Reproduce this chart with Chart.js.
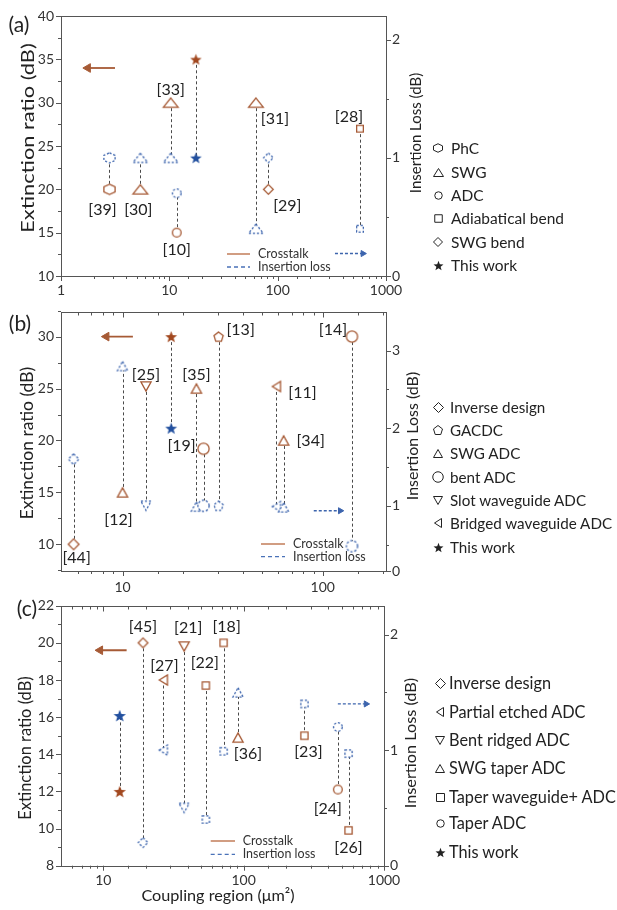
<!DOCTYPE html>
<html>
<head>
<meta charset="utf-8">
<script src="https://cdn.jsdelivr.net/npm/chart.js@4.4.1/dist/chart.umd.min.js"></script>
<style>
  body { margin: 0; background: #fff; }
  #page { position: relative; width: 617px; height: 910px; overflow: hidden; font-family: Lato, sans-serif; color: #222; }
  .chart { position: absolute; left: 0; }
</style>
</head>
<body>
<div id="page">
  <canvas id="ca" class="chart" width="617" height="300" style="top:0px"></canvas>
  <canvas id="cb" class="chart" width="617" height="300" style="top:300px"></canvas>
  <canvas id="cc" class="chart" width="617" height="320" style="top:590px"></canvas>
</div>
<script>
// ---- panel (a) ----
const aRefs = ['[39]', '[30]', '[33]', '[10]', '', '[31]', '[29]', '[28]'];
const aArea = [2.8, 5.4, 10.3, 11.7, 17.6, 63, 82, 575];
const aER = [20, 20, 30, 15, 35, 30, 20, 27];
const aIL = [1.0, 1.0, 1.0, 0.7, 1.0, 0.4, 1.0, 0.4];
const aKind = [0, 1, 1, 2, 5, 1, 4, 3];
const aTypes = ['PhC', 'SWG', 'ADC', 'Adiabatical bend', 'SWG bend', 'This work'];
const aERTicks = [10, 12.5, 15, 17.5, 20, 22.5, 25, 27.5, 30, 32.5, 35, 37.5, 40];
const aERLabels = ['10', '', '15', '', '20', '', '25', '', '30', '', '35', '', '40'];
const aILTicks = [0, 0.5, 1, 1.5, 2];
const aILLabels = ['0', '', '1', '', '2'];

// ---- panel (b) ----
const bRefs = ['[44]', '[12]', '[25]', '', '[35]', '[19]', '[13]', '[11]', '[34]', '[14]'];
const bArea = [5.7, 10.0, 13.1, 17.5, 23.4, 25.4, 30.2, 58.7, 63.8, 140];
const bER = [10, 15, 25.2, 30, 25, 19.2, 30, 25.2, 20, 30];
const bIL = [1.6, 2.8, 1.0, 2.0, 0.99, 1.0, 1.0, 0.99, 0.98, 0.48];
const bKind = [0, 2, 4, 6, 2, 3, 1, 5, 2, 3];
const bTypes = ['Inverse design', 'GACDC', 'SWG ADC', 'bent ADC', 'Slot waveguide ADC', 'Bridged waveguide ADC', 'This work'];
const bERTicks = [7.5, 10, 12.5, 15, 17.5, 20, 22.5, 25, 27.5, 30, 32.5];
const bERLabels = ['', '10', '', '15', '', '20', '', '25', '', '30', ''];
// the published axis puts its "0" label at the frame bottom, off the 1-2-3 spacing
const bILTicks = [0.16, 0.5, 1, 1.5, 2, 2.5, 3];
const bILLabels = ['0', '', '1', '', '2', '', '3'];

// ---- panel (c) ----
const cRefs = ['', '[45]', '[27]', '[21]', '[22]', '[18]', '[36]', '[23]', '[24]', '[26]'];
const cArea = [13.1, 19.2, 26.8, 37.7, 53.8, 72, 91.2, 271, 469, 559];
const cER = [12, 20, 18, 19.8, 17.7, 20, 14.9, 15, 12.1, 9.9];
const cIL = [1.3, 0.2, 1.0, 0.5, 0.4, 0.99, 1.5, 1.4, 1.2, 0.97];
const cKind = [6, 0, 1, 2, 4, 4, 3, 4, 5, 4];
const cTypes = ['Inverse design', 'Partial etched ADC', 'Bent ridged ADC', 'SWG taper ADC', 'Taper waveguide+ ADC', 'Taper ADC', 'This work'];
const cERTicks = [8, 9, 10, 11, 12, 13, 14, 15, 16, 17, 18, 19, 20, 21, 22];
const cERLabels = ['8', '', '10', '', '12', '', '14', '', '16', '', '18', '', '20', '', '22'];
const cILTicks = [0, 0.5, 1, 1.5, 2];
const cILLabels = ['0', '', '1', '', '2'];

const brown = '#a65a35';
const blue = '#3c64ad';
const starBrown = '#a2481f';
const starBlue = '#22509f';
const axisColor = '#555';
const page = document.getElementById('page');

const makeMarker = (shape, color, dashed, sz, lw = 1.3) => {
    const c = document.createElement('canvas');
    c.width = Math.ceil(sz[0] + 4);
    c.height = Math.ceil(sz[1] + 4);
    const g = c.getContext('2d');
    g.translate(c.width / 2, c.height / 2);
    const hw = sz[0] / 2 - lw / 2;
    const hh = sz[1] / 2 - lw / 2;
    const poly = pts => {
        pts.forEach(([px, py], i) => (i ? g.lineTo(px, py) : g.moveTo(px, py)));
        g.closePath();
    };
    const deg = d => d * Math.PI / 180;
    g.beginPath();
    if (shape === 'circle') g.ellipse(0, 0, hw, hh, 0, 0, Math.PI * 2);
    else if (shape === 'square') g.rect(-hw, -hh, 2 * hw, 2 * hh);
    else if (shape === 'diamond') poly([[0, -hh], [hw, 0], [0, hh], [-hw, 0]]);
    else if (shape === 'triangle') poly([[0, -hh], [hw, hh], [-hw, hh]]);
    else if (shape === 'triangleDown') poly([[-hw, -hh], [hw, -hh], [0, hh]]);
    else if (shape === 'triangleLeft') poly([[-hw, 0], [hw, -hh], [hw, hh]]);
    else if (shape === 'hexagon') poly([0, 1, 2, 3, 4, 5].map(k => [hw * Math.cos(deg(-90 + 60 * k)) / 0.866, hh * Math.sin(deg(-90 + 60 * k))]));
    else if (shape === 'pentagon') poly([0, 1, 2, 3, 4].map(k => [hw * Math.cos(deg(-90 + 72 * k)) / 0.951, hh * (Math.sin(deg(-90 + 72 * k)) + 0.0955) / 0.9045]));
    else if (shape === 'star') {
        const r = sz[1] / 2;
        poly([...Array(10).keys()].map(k => {
            const rr = k % 2 ? r * 0.42 : r;
            return [rr * Math.cos(deg(-90 + 36 * k)), rr * Math.sin(deg(-90 + 36 * k)) + r * 0.1];
        }));
        g.fillStyle = color;
        g.fill();
        return c;
    }
    g.fillStyle = '#fff';
    g.fill();
    g.lineWidth = lw;
    g.strokeStyle = color;
    if (dashed) g.setLineDash([2.2, 1.8]);
    g.stroke();
    return c;
};

const isPow10 = v => {
    const l = Math.log10(v);
    return Math.abs(l - Math.round(l)) < 1e-6;
};

const drawTicks = (ctx, s, side, isMajor, inward) => {
    s.ticks.forEach(t => {
        const major = isMajor(t.value);
        const px = s.getPixelForValue(t.value);
        const atEnd = Math.abs(t.value - s.min) < 1e-9 || Math.abs(t.value - s.max) < 1e-9;
        if (atEnd && !major) return;
        const len = major ? 5 : 3;
        const p = Math.round(px) + 0.5;
        ctx.beginPath();
        if (side === 'bottom') { ctx.moveTo(p, s.top); ctx.lineTo(p, s.top + len); }
        else if (side === 'top') { ctx.moveTo(p, inward); ctx.lineTo(p, inward + len); }
        else if (side === 'left') { ctx.moveTo(s.right, p); ctx.lineTo(s.right - len, p); }
        else { ctx.moveTo(s.left, p); ctx.lineTo(s.left + len, p); }
        ctx.stroke();
    });
};

const decor = p => ({
    id: 'decor',
    beforeDatasetsDraw(chart) {
        const { ctx, scales } = chart;
        ctx.save();
        ctx.strokeStyle = '#4a4a4a';
        ctx.lineWidth = 1;
        ctx.setLineDash([3, 2.5]);
        p.area.forEach((v, i) => {
            const px = Math.round(scales.x.getPixelForValue(v)) + 0.5;
            ctx.beginPath();
            ctx.moveTo(px, scales.yL.getPixelForValue(p.er[i]));
            ctx.lineTo(px, scales.yR.getPixelForValue(p.il[i]));
            ctx.stroke();
        });
        ctx.restore();
    },
    afterDraw(chart) {
        const { ctx, chartArea: a, scales } = chart;
        ctx.save();
        ctx.strokeStyle = axisColor;
        ctx.lineWidth = 1;
        const l = Math.round(a.left) + 0.5, t = Math.round(a.top) + 0.5;
        const r = Math.round(a.right) + 0.5, b = Math.round(a.bottom) + 0.5;
        ctx.strokeRect(l, t, r - l, b - t);
        drawTicks(ctx, scales.x, 'bottom', isPow10);
        if (p.topTicks) drawTicks(ctx, scales.x, 'top', isPow10, t);
        drawTicks(ctx, scales.yL, 'left', v => p.erLabels[p.erTicks.indexOf(v)] !== '');
        drawTicks(ctx, scales.yR, 'right', v => p.ilLabels[p.ilTicks.indexOf(v)] !== '');

        ctx.fillStyle = '#222';
        ctx.font = '16px Lato';
        ctx.textAlign = 'center';
        ctx.textBaseline = 'middle';
        p.refs.forEach((txt, i) => {
            if (!txt) return;
            ctx.fillText(txt, scales.x.getPixelForValue(p.area[i]) + p.dx[i], scales.yL.getPixelForValue(p.er[i]) + p.dy[i]);
        });

        const L = p.legend;
        ctx.lineWidth = 1.3;
        ctx.strokeStyle = '#b9683f';
        ctx.beginPath(); ctx.moveTo(L.x0, L.y1); ctx.lineTo(L.x1, L.y1); ctx.stroke();
        ctx.strokeStyle = '#4a72b8';
        ctx.setLineDash([4, 3]);
        ctx.beginPath(); ctx.moveTo(L.x0, L.y2); ctx.lineTo(L.x1, L.y2); ctx.stroke();
        ctx.setLineDash([]);
        ctx.fillStyle = '#333';
        ctx.font = '12.5px Lato';
        ctx.textAlign = 'left';
        ctx.fillText('Crosstalk', L.tx, L.y1);
        ctx.fillText('Insertion loss', L.tx, L.y2);
        ctx.restore();
    }
});

const makePanel = (id, p) => {
    const pick = (k, dashed) => {
        const shape = p.shapes[k];
        const isStar = shape === 'star';
        const color = isStar ? (dashed ? starBlue : starBrown) : (dashed ? blue : brown);
        return makeMarker(shape, color, dashed && !isStar, p.sizes[k]);
    };
    const tickFont = { family: 'Lato', size: 14 };
    const grid = { display: true, drawOnChartArea: false, drawTicks: true, tickLength: 5, color: 'rgba(0,0,0,0)' };
    const yAxis = (pos, min, max, list, labels, width) => ({
        type: 'linear',
        position: pos,
        min: min,
        max: max,
        afterBuildTicks: s => { s.ticks = list.map(v => ({ value: v })); },
        afterFit: s => { s.width = width; },
        grid: grid,
        border: { display: false },
        ticks: { autoSkip: false, padding: pos === 'left' ? 2 : 1, font: tickFont, color: '#333', callback: (v, i) => labels[i] },
    });
    return new Chart(document.getElementById(id), {
        type: 'scatter',
        data: {
            datasets: [
                { data: p.area.map((v, i) => ({ x: v, y: p.er[i] })), yAxisID: 'yL', pointStyle: p.kind.map(k => pick(k, false)), pointRadius: 5 },
                { data: p.area.map((v, i) => ({ x: v, y: p.il[i] })), yAxisID: 'yR', pointStyle: p.kind.map(k => pick(k, true)), pointRadius: 5 },
                {
                    type: 'line', data: p.arrowER.x.map(v => ({ x: v, y: p.arrowER.y })), yAxisID: 'yL',
                    borderColor: brown, borderWidth: 1.8, pointRadius: [0, 5], pointStyle: 'triangle', pointRotation: -90,
                    pointBackgroundColor: brown, pointBorderColor: brown, pointBorderWidth: 1,
                },
                {
                    type: 'line', data: p.arrowIL.x.map(v => ({ x: v, y: p.arrowIL.y })), yAxisID: 'yR',
                    borderColor: blue, borderWidth: 1.4, borderDash: [3, 2], pointRadius: [0, 3.5], pointStyle: 'triangle', pointRotation: 90,
                    pointBackgroundColor: blue, pointBorderColor: blue, pointBorderWidth: 1,
                },
            ],
        },
        options: {
            responsive: false,
            animation: false,
            devicePixelRatio: 1,
            events: [],
            layout: { padding: { top: p.top, right: p.padRight, left: 0, bottom: 0 } },
            plugins: { legend: { display: false }, tooltip: { enabled: false } },
            scales: {
                x: {
                    type: 'logarithmic',
                    position: 'bottom',
                    min: p.xMin,
                    max: p.xMax,
                    afterFit: s => { s.height = p.xH; },
                    grid: grid,
                    border: { display: false },
                    ticks: { autoSkip: false, maxRotation: 0, minRotation: 0, padding: p.xPad, font: tickFont, color: '#333', callback: v => (isPow10(v) ? String(Math.round(v)) : '') },
                },
                yL: yAxis('left', p.erMin, p.erMax, p.erTicks, p.erLabels, 61),
                yR: yAxis('right', p.ilMin, p.ilMax, p.ilTicks, p.ilLabels, 40),
            },
        },
        plugins: [decor(p)],
    });
};

makePanel('ca', {
    refs: aRefs, area: aArea, er: aER, il: aIL, kind: aKind,
    shapes: ['hexagon', 'triangle', 'circle', 'square', 'diamond', 'star'],
    sizes: [[12.5, 11.5], [16, 10.5], [10, 10], [8, 8], [11, 11], [12.5, 12]],
    dx: [-7, -2, 0, 0, 0, 19, 19, -11],
    dy: [21, 21, -13, 17, 0, 16, 17, -12],
    erMin: 10, erMax: 40, erTicks: aERTicks, erLabels: aERLabels,
    ilMin: 0, ilMax: 2.2, ilTicks: aILTicks, ilLabels: aILLabels,
    xMin: 1, xMax: 1000,
    arrowER: { x: [3.15, 1.77], y: 34 },
    arrowIL: { x: [338, 612], y: 0.19 },
    top: 16, padRight: 191, xH: 24, xPad: 1, topTicks: false,
    legend: { x0: 227, x1: 250, y1: 254, y2: 267, tx: 258 },
});

makePanel('cb', {
    refs: bRefs, area: bArea, er: bER, il: bIL, kind: bKind,
    shapes: ['diamond', 'pentagon', 'triangle', 'circle', 'triangleDown', 'triangleLeft', 'star'],
    sizes: [[12, 12], [10.5, 10.5], [11.5, 10.5], [12.5, 12.5], [11.5, 10.5], [9.5, 11.5], [13, 12.5]],
    dx: [3, -4, 0, 0, 0, -22, 22, 26, 27, -19],
    dy: [14, 27, -12, 0, -14, -3, -7, 6, 0, -7],
    erMin: 7.43, erMax: 32.4, erTicks: bERTicks, erLabels: bERLabels,
    ilMin: 0.16, ilMax: 3.5, ilTicks: bILTicks, ilLabels: bILLabels,
    xMin: 4.93, xMax: 207,
    arrowER: { x: [11.27, 8.31], y: 30 },
    arrowIL: { x: [90.2, 122.3], y: 0.936 },
    top: 11.7, padRight: 191, xH: 29, xPad: 2.6, topTicks: true,
    legend: { x0: 261, x1: 285, y1: 244, y2: 256.7, tx: 293 },
});

makePanel('cc', {
    refs: cRefs, area: cArea, er: cER, il: cIL, kind: cKind,
    shapes: ['diamond', 'triangleLeft', 'triangleDown', 'triangle', 'square', 'circle', 'star'],
    sizes: [[11, 11], [9.5, 11.5], [11.5, 10.5], [11.5, 10.5], [8.5, 8.5], [10, 10], [13.5, 13]],
    dx: [0, 0, 1, 4, -1, 3, 10, 4, -10, 0],
    dy: [0, -16, -14, -19, -23, -16, 16, 16, 19, 17],
    erMin: 8, erMax: 22, erTicks: cERTicks, erLabels: cERLabels,
    ilMin: 0, ilMax: 2.25, ilTicks: cILTicks, ilLabels: cILLabels,
    xMin: 5, xMax: 1000,
    arrowER: { x: [14.67, 9.49], y: 19.6 },
    arrowIL: { x: [469, 745], y: 1.40 },
    top: 15.7, padRight: 193, xH: 44.3, xPad: 1.2, topTicks: true,
    legend: { x0: 210.7, x1: 235, y1: 251, y2: 264.3, tx: 242.7 },
});

// ---- text around the plots: sized to the measured length, stretched if the font would get too tall ----
const addText = (text, cx, cy, size, len, rotate, maxSize = 40) => {
    const d = document.createElement('div');
    d.textContent = text;
    d.style.cssText = `position:absolute;left:${cx}px;top:${cy}px;font-size:${size}px;line-height:1;white-space:nowrap;`;
    page.appendChild(d);
    let k = 1;
    if (len) {
        const fit = size * len / d.offsetWidth;
        d.style.fontSize = Math.min(fit, maxSize) + 'px';
        k = len / d.offsetWidth;
    }
    d.style.transform = `translate(-50%,-50%)${rotate ? ' rotate(-90deg)' : ''} scaleX(${k})`;
};

addText('(a)', 19, 23, 21);
addText('(b)', 20, 322, 21);
addText('(c)', 27, 607, 21);
addText('Extinction ratio (dB)', 28, 138, 18, 190, true, 17.5);
addText('Extinction ratio (dB)', 27, 443, 16, 153, true, 17.5);
addText('Extinction ratio (dB)', 25, 748, 16, 143, true, 17.5);
addText('Insertion Loss (dB)', 415, 133, 16, 120, true);
addText('Insertion Loss (dB)', 412, 436, 16, 128, true);
addText('Insertion Loss (dB)', 410, 743, 16, 130, true);
addText('Coupling region (μm²)', 218, 895, 16, 153, false);

const addLegend = (types, shapes, sizes, symX, textX, ys, longest, longLen) => {
    const probe = document.createElement('span');
    probe.textContent = longest;
    probe.style.cssText = 'position:absolute;font-size:20px;white-space:nowrap;visibility:hidden;';
    page.appendChild(probe);
    const size = 20 * longLen / probe.offsetWidth;
    page.removeChild(probe);
    types.forEach((t, i) => {
        const m = makeMarker(shapes[i], '#222', false, sizes[i], 1);
        m.style.cssText = `position:absolute;left:${symX - m.width / 2}px;top:${ys[i] - m.height / 2}px;`;
        page.appendChild(m);
        const d = document.createElement('div');
        d.textContent = t;
        d.style.cssText = `position:absolute;left:${textX}px;top:${ys[i]}px;font-size:${size}px;line-height:1.2;white-space:nowrap;transform:translateY(-50%);`;
        page.appendChild(d);
    });
};

addLegend(aTypes, ['hexagon', 'triangle', 'circle', 'square', 'diamond', 'star'],
    [[10, 9.5], [11, 9], [8.5, 8.5], [8.5, 8.5], [10, 10], [11, 10.5]],
    438, 451, [148, 172, 195, 218, 242, 265], 'Adiabatical bend', 113);
addLegend(bTypes, ['diamond', 'pentagon', 'triangle', 'circle', 'triangleDown', 'triangleLeft', 'star'],
    [[11, 11], [10, 10], [10, 9], [11.5, 11.5], [10, 9], [8, 10], [11, 10.5]],
    438, 450, [407, 430, 453, 477, 500, 523, 547], 'Bridged waveguide ADC', 162);
addLegend(cTypes, ['diamond', 'triangleLeft', 'triangleDown', 'triangle', 'square', 'circle', 'star'],
    [[11, 11], [8, 10], [10, 9], [10, 9], [9, 9], [8.5, 8.5], [11, 10.5]],
    440, 449, [683, 712, 740, 768, 797, 823, 852], 'Taper waveguide+ ADC', 167);
</script>
</body>
</html>
